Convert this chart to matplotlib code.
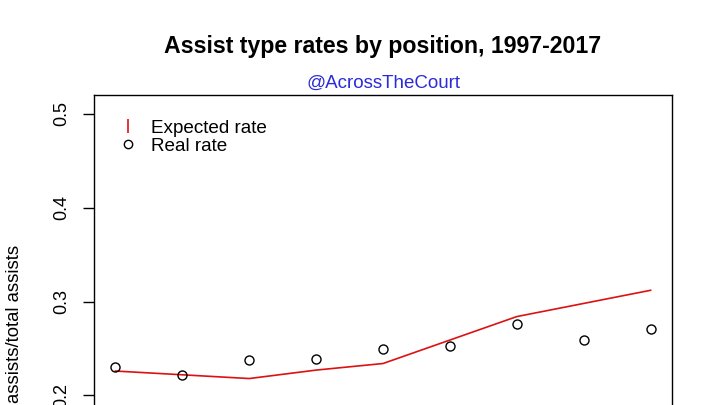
import matplotlib.pyplot as plt
from matplotlib.lines import Line2D

plt.rcParams['font.family'] = ['Liberation Sans', 'DejaVu Sans']

# data (x = 1..9)
positions = [1, 2, 3, 4, 5, 6, 7, 8, 9]
real_rate = [0.230, 0.222, 0.238, 0.239, 0.249, 0.253, 0.276, 0.259, 0.271]
expected_rate = [0.226, 0.222, 0.218, 0.227, 0.234, 0.259, 0.284, 0.298, 0.312]
y_ticks = [0.1, 0.2, 0.3, 0.4, 0.5]

fig = plt.figure(figsize=(7.2, 4.05), dpi=100)
# the plot region runs past the bottom of the picture, like the cropped original
ax = fig.add_axes([94 / 720, 1 - 602 / 405, 578 / 720, 507 / 405])

ax.plot(positions, expected_rate, color='#dd1111', lw=1.2)
ax.plot(positions, real_rate, 'o', mfc='none', mec='black', ms=6.5, mew=1.0)

ax.set_xlim(0.68, 9.32)
ax.set_ylim(-0.02, 0.52)
ax.set_yticks(y_ticks)
ax.set_yticklabels([str(t) for t in y_ticks], rotation=90, va='center', fontsize=13)
ax.set_xticks(positions)
ax.tick_params(axis='x', labelbottom=False)
ax.tick_params(axis='y', length=8, width=1, pad=9)
for s in ax.spines.values():
    s.set_linewidth(1)

handles = [
    Line2D([], [], color='#dd1111', marker='|', ls='none', ms=10, mew=1.2),
    Line2D([], [], color='black', marker='o', mfc='none', ls='none', ms=6, mew=1.0),
]
ax.legend(handles, ['Expected rate', 'Real rate'], loc='upper left',
          bbox_to_anchor=(0.036, 0.967), frameon=False, fontsize=13.6,
          handlelength=0.6, handletextpad=0.9, labelspacing=0.06, borderaxespad=0)

fig.text(383 / 720, 1 - 47 / 405, 'Assist type rates by position, 1997-2017',
         ha='center', va='center', fontsize=16.7, fontweight='bold')
fig.text(383 / 720, 1 - 83 / 405, '@AcrossTheCourt',
         ha='center', va='center', fontsize=13.5, color='#2b2bd9')
fig.text(15 / 720, 1 - 245 / 405, 'assists/total assists',
         rotation=90, ha='center', va='top', fontsize=13.3)

fig.savefig('out.png', dpi=100)
